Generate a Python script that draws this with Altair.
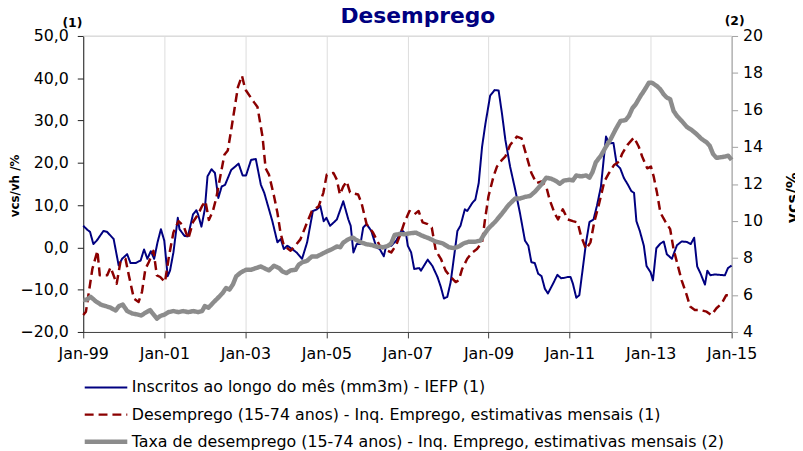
import altair as alt
import pandas as pd

# ---------------- data (month offset from Jan-99, value) ----------------
series_names = [
    "Inscritos ao longo do mês (mm3m) - IEFP (1)",
    "Desemprego (15-74 anos) - Inq. Emprego, estimativas mensais (1)",
    "Taxa de desemprego (15-74 anos) - Inq. Emprego, estimativas mensais (2)",
]
series_colors = ["#000080", "#8B0000", "#8C8C8C"]

iefp_month = [0, 1.3, 2, 3, 4, 6, 7, 9, 10.5, 11.5, 13, 14, 15.5, 17, 18, 19, 20, 21, 22, 23, 24, 25, 25.7, 26.7,
              28, 28.5, 30, 31, 32.5, 33.5, 34, 35, 36, 36.8, 38, 39, 40, 41, 42, 43.8, 46, 47.2, 48.2, 49.7, 51.1,
              52.6, 53.6, 55, 56, 57.5, 58.5, 59.4, 60.4, 61.9, 63.3, 64.8, 66.3, 68, 69.2, 70.2, 71.2, 72, 73.1,
              75.1, 77, 78.5, 79.2, 80, 81, 82.1, 82.9, 83.9, 85.3, 86.8, 87.8, 89, 89.7, 91.2, 92.7, 94.3, 95.6,
              96.1, 97.1, 98, 99.5, 100, 102, 103.4, 104.9, 105.9, 106.8, 107.8, 108.8, 110.1, 110.8, 111.7, 113,
              113.7, 115.2, 116.1, 117.1, 118.1, 119.1, 120.5, 121.8, 123, 124, 125, 126.4, 127.9, 129.3, 130.8,
              131.8, 132.7, 133.7, 134.7, 135.7, 136.7, 137.6, 139.1, 140.4, 141.5, 142.5, 143.5, 144.3, 145, 146,
              146.9, 147.9, 148.9, 149.9, 151.1, 152.1, 153.3, 154.1, 154.8, 155.7, 157, 158, 159, 160.1, 161.3,
              162.3, 163.1, 163.8, 164.8, 166, 166.8, 168, 168.7, 169.7, 170.9, 171.9, 172.8, 174.3, 175.8, 177.2,
              178.7, 179.9, 180.9, 181.8, 182.8, 184.1, 184.8, 185.7, 187, 188.5, 190, 190.9, 192]
iefp_value = [5.1, 4.1, 3.7, 0.8, 1.6, 3.9, 3.7, 2.0, -4.3, -2.7, -1.6, -3.7, -3.7, -3.1, -0.5, -2.7, -0.9, -2.7,
              1.2, 4.3, 1.6, -6.8, -5.5, -1.2, 7.0, 4.3, 2.7, 2.6, 7.8, 8.8, 7.8, 4.9, 9.0, 16.8, 18.5, 17.6, 11.7,
              14.4, 14.8, 18.3, 19.8, 17.0, 17.0, 20.7, 20.9, 14.8, 12.9, 9.0, 6.2, 1.2, 2.0, -0.4, 0.4, -0.4, -1.3,
              -2.7, 1.2, 8.6, 9.0, 9.8, 6.2, 7.0, 5.1, 6.6, 10.9, 6.6, 5.1, -1.2, 0.8, 0.8, 4.7, 5.5, 3.9, 0.0, -0.4,
              -2.1, 0.4, 0.4, 1.6, 4.1, 3.1, 0.4, -1.2, -5.1, -4.9, -5.5, -2.9, -4.4, -7.0, -9.4, -12.1, -11.7,
              -8.2, -0.4, 3.9, 5.1, 9.0, 8.6, 10.5, 11.3, 15.2, 23.8, 29.3, 35.9, 37.2, 37.1, 31.6, 25.4, 19.1, 13.7,
              8.2, 1.6, 0.4, -3.5, -3.7, -6.2, -6.8, -9.8, -10.9, -8.6, -6.5, -7.3, -7.2, -7.0, -7.0, -8.6, -11.9,
              -11.3, -5.1, 1.2, 6.0, 6.6, 9.8, 14.4, 20.7, 26.2, 24.6, 24.7, 19.5, 18.7, 16.4, 14.8, 13.3, 12.9, 6.2,
              3.9, 0.4, -4.4, -5.9, -7.8, -0.2, 0.9, 1.4, -1.6, -2.7, 0.5, 1.4, 1.3, 0.8, 2.3, -4.5, -6.2, -8.8,
              -5.5, -6.6, -6.4, -6.5, -6.6, -4.9, -4.3]

desemp_month = [0, 0.8, 2.7, 4.2, 4.9, 5.7, 7.1, 8.1, 9.9, 11, 12.5, 13.5, 15, 16.4, 17.4, 18.4, 19.4, 20.8, 21.8,
                22.8, 24.2, 25.4, 26.7, 28.2, 29.7, 31.1, 32.5, 34, 35.2, 36.2, 37.2, 38.4, 39.4, 40.4, 41.8, 42.8,
                43.8, 44.8, 45.8, 47, 47.7, 48.2, 50.6, 51.6, 53.1, 54, 55, 56.5, 57.5, 58.4, 59.4, 61.4, 62.8, 64.3,
                66.3, 67.7, 69.7, 71.1, 72.1, 74.1, 75.1, 76, 77, 78, 79, 81.4, 82.4, 83.9, 85.8, 87.8, 89.2, 91.2,
                92.7, 94.1, 95.1, 96.6, 98, 99.3, 100.5, 102, 103.2, 104.4, 105.9, 107.3, 108.8, 110.3, 111.2, 112.2,
                113.7, 115.2, 116.6, 118.1, 118.9, 120, 121.5, 122.5, 124, 125, 126.4, 128.4, 129.8, 131.3, 132.7,
                134.2, 135.7, 137.1, 138.1, 139.6, 140.6, 142, 143.5, 145, 146.4, 147.4, 148.9, 150.2, 151.3, 152.8,
                154.3, 155.7, 157.2, 158.7, 159.6, 161.1, 163.1, 164.5, 165.5, 167, 168.1, 168.9, 169.9, 170.9,
                172.3, 173.8, 174.8, 175.8, 177.2, 178.7, 179.7, 181.1, 182.6, 184.6, 186, 187.5, 189, 190.4, 192]
desemp_value = [-16.0, -15.2, -5.1, -0.8, -6.6, -6.6, -6.6, -4.7, -8.6, -3.5, -2.7, -6.6, -12.1, -12.9, -10.5,
                -5.1, -3.5, -0.8, -6.6, -7.0, -8.2, -2.0, 3.5, 6.2, 5.1, 2.0, 6.0, 7.8, 9.8, 10.9, 6.5, 8.6, 11.7,
                16.0, 21.9, 22.9, 27.7, 32.8, 37.9, 40.6, 38.3, 37.1, 34.3, 33.2, 26.1, 18.7, 17.2, 12.1, 8.2, 3.5,
                0.4, -0.8, 0.4, 1.9, 5.9, 8.6, 9.7, 12.9, 17.2, 17.6, 16.0, 12.5, 14.4, 15.6, 13.0, 12.5, 10.5, 5.5,
                3.5, 0.4, -0.4, -1.2, 0.6, 3.5, 5.9, 8.6, 7.8, 8.6, 5.9, 5.5, 4.7, -0.8, -2.7, -5.5, -7.0, -8.2, -7.8,
                -5.1, -2.7, -1.2, -0.4, 1.2, 6.2, 12.1, 16.8, 19.1, 20.7, 21.5, 24.2, 26.2, 25.8, 21.5, 17.6, 15.2,
                15.6, 14.4, 11.3, 8.0, 6.6, 9.0, 6.6, 6.2, 5.9, 2.7, -0.4, 1.2, 5.9, 10.5, 15.6, 17.6, 19.5, 20.3,
                22.2, 24.2, 26.0, 23.8, 21.5, 18.7, 19.1, 16.8, 12.9, 8.2, 6.2, 4.3, -0.4, -3.5, -7.8, -11.3, -14.0,
                -14.8, -14.8, -15.2, -16.0, -14.4, -13.3, -11.3, -11.3]

taxa_month = [0, 0.8, 2.2, 3.7, 5.2, 6.6, 8.1, 9.6, 10.6, 11.7, 13, 14.5, 15.9, 17.2, 18.4, 19.8, 20.8, 21.8, 22.8,
              24.2, 25.2, 26.7, 28.2, 29.6, 31.1, 32.6, 34, 35.2, 36, 37.1, 38.4, 39.9, 41.3, 42.3, 43.3, 44.3, 45.3,
              46.7, 48.2, 49.7, 51.1, 52.6, 54.1, 55, 56.5, 58, 59, 60.2, 61.4, 62.9, 63.8, 64.8, 66.3, 67.7, 69.2,
              70.7, 72.1, 73.6, 75.1, 76.1, 77, 78.5, 79.8, 80.9, 82.4, 83.9, 85.3, 86.8, 88.8, 90.2, 91.2, 92.2,
              93.6, 95.1, 96.6, 98.5, 100.5, 102.4, 104.4, 106.4, 108.3, 109.8, 111.2, 112.7, 114.2, 116.1, 117.6,
              118.6, 120, 122, 124, 125.9, 127.9, 129.3, 130.8, 132.3, 133.7, 135.7, 137.1, 138.6, 140.1, 141.1,
              142.3, 144, 145, 146, 147.4, 148.9, 149.9, 150.8, 151.8, 153.3, 154.8, 156.2, 157.7, 159.1, 160.6,
              161.6, 162.6, 163.6, 165, 166, 167.5, 168.4, 169.9, 170.9, 171.9, 172.8, 173.8, 174.8, 175.8, 177.2,
              178.7, 180.2, 181.6, 183.1, 184.6, 185.5, 186.5, 187.5, 189, 190, 191, 192]
taxa_value = [5.75, 5.72, 5.90, 5.66, 5.48, 5.40, 5.31, 5.16, 5.40, 5.48, 5.13, 5.00, 4.95, 4.89, 5.04, 5.18, 4.95,
              4.72, 4.86, 4.95, 5.07, 5.13, 5.07, 5.13, 5.07, 5.13, 5.07, 5.13, 5.40, 5.31, 5.57, 5.84, 6.11, 6.38,
              6.29, 6.56, 7.01, 7.22, 7.36, 7.36, 7.45, 7.54, 7.40, 7.33, 7.58, 7.45, 7.27, 7.18, 7.33, 7.36, 7.63,
              7.76, 7.85, 8.08, 8.08, 8.22, 8.35, 8.47, 8.62, 8.58, 8.83, 9.01, 9.10, 8.97, 8.83, 8.74, 8.70, 8.62,
              8.58, 8.65, 8.79, 9.24, 9.30, 9.28, 9.33, 9.37, 9.19, 9.06, 8.88, 8.79, 8.58, 8.53, 8.62, 8.79, 8.88,
              8.88, 8.94, 9.24, 9.60, 9.96, 10.40, 10.85, 11.21, 11.21, 11.30, 11.35, 11.57, 11.98, 12.34, 12.28,
              12.15, 12.01, 12.18, 12.23, 12.19, 12.46, 12.41, 12.46, 12.34, 12.64, 13.18, 13.53, 14.02, 14.43,
              14.97, 15.41, 15.45, 15.68, 16.09, 16.31, 16.75, 17.02, 17.47, 17.47, 17.29, 17.11, 16.84, 16.67,
              16.58, 15.95, 15.68, 15.41, 15.09, 14.91, 14.70, 14.43, 14.25, 14.07, 13.62, 13.41, 13.45, 13.48,
              13.53, 13.30]

x_tick_years = list(range(1999, 2016, 2))
left_ticks = [-20, -10, 0, 10, 20, 30, 40, 50]
right_ticks = [4, 6, 8, 10, 12, 14, 16, 18, 20]

FONT = "DejaVu Sans"


def to_dates(months):
    base = pd.Timestamp("1999-01-01")
    return [(base + pd.to_timedelta(m * 30.4375, unit="D")).strftime("%Y-%m-%dT%H:%M:%S") for m in months]


left_df = pd.concat([
    pd.DataFrame({"date": to_dates(iefp_month), "value": iefp_value, "series": series_names[0]}),
    pd.DataFrame({"date": to_dates(desemp_month), "value": desemp_value, "series": series_names[1]}),
])
right_df = pd.DataFrame({"date": to_dates(taxa_month), "value": taxa_value, "series": series_names[2]})

legend = alt.Legend(
    orient="none", legendX=-1, legendY=347, direction="vertical", title=None,
    symbolType="stroke", symbolSize=1849, clipHeight=16, rowPadding=11.5,
    labelFont=FONT, labelFontSize=16, labelColor="black", labelLimit=800,
    labelOffset=2, padding=0,
)

color_enc = alt.Color("series:N", scale=alt.Scale(domain=series_names, range=series_colors), legend=legend)
dash_enc = alt.StrokeDash("series:N", scale=alt.Scale(domain=series_names, range=[[1, 0], [9, 5], [1, 0]]),
                          legend=legend)
width_enc = alt.StrokeWidth("series:N", scale=alt.Scale(type="ordinal", domain=series_names,
                                                         range=[2.0, 2.5, 4.5]),
                            legend=legend)

x_enc = alt.X(
    "date:T",
    scale=alt.Scale(domain=[alt.DateTime(year=1999, month=1, date=1), alt.DateTime(year=2015, month=1, date=1)]),
    axis=alt.Axis(
        values=[alt.DateTime(year=y, month=1, date=1) for y in x_tick_years],
        format="%b-%y", title=None, domainColor="#404040", tickColor="#404040",
        tickSize=6, labelPadding=8, labelFontSize=16, labelFont=FONT, labelColor="black",
        labelFlush=False, labelOverlap=False, labelBound=False,
    ),
)

y_left = alt.Y(
    "value:Q",
    scale=alt.Scale(domain=[-20, 50], nice=False, zero=False),
    axis=alt.Axis(
        values=left_ticks, labelExpr="replace(format(datum.value, '.1f'), '.', ',')",
        title="vcs/vh /%", titleFont=FONT, titleFontSize=12, titleFontWeight="bold", titleColor="black",
        titleAngle=270, titleX=-62, titleY=151, titleAlign="center", titleBaseline="bottom",
        domainColor="#202020", tickColor="#202020", tickSize=6, labelPadding=9,
        labelFontSize=16, labelFont=FONT, labelColor="black", grid=False,
        labelFlush=False, labelOverlap=False,
    ),
)

y_right = alt.Y(
    "value:Q",
    scale=alt.Scale(domain=[4, 20], nice=False, zero=False),
    axis=alt.Axis(
        orient="right", values=right_ticks, format="d",
        title="vcs/%", titleFont=FONT, titleFontSize=16, titleFontWeight="bold", titleColor="black",
        titleAngle=270, titleX=70, titleY=163, titleAlign="center", titleBaseline="bottom",
        domainColor="#A0A0A0", tickColor="#A0A0A0", tickSize=6, labelPadding=5,
        labelFontSize=16, labelFont=FONT, labelColor="black", grid=False,
        labelFlush=False, labelOverlap=False,
    ),
)

one = pd.DataFrame({"k": [0]})

top_rule = alt.Chart(one).mark_rule(color="#DADADA", strokeWidth=1).encode(y=alt.datum(50))

left_lines = alt.Chart(left_df).mark_line(strokeJoin="round").encode(
    x=x_enc, y=y_left, color=color_enc, strokeDash=dash_enc, strokeWidth=width_enc,
    detail="series:N",
)

title_txt = alt.Chart(one).mark_text(
    text="Desemprego", font=FONT, fontSize=22, fontWeight="bold", color="#000080",
    align="center", baseline="alphabetic",
).encode(x=alt.value(338), y=alt.value(-13))

p1_txt = alt.Chart(one).mark_text(
    text="(1)", font=FONT, fontSize=12.5, fontWeight="bold", color="black", align="center", baseline="middle",
).encode(x=alt.value(-11), y=alt.value(-13))

p2_txt = alt.Chart(one).mark_text(
    text="(2)", font=FONT, fontSize=12.5, fontWeight="bold", color="black", align="center", baseline="middle",
).encode(x=alt.value(658), y=alt.value(-15))

left_layer = alt.layer(top_rule, left_lines, title_txt, p1_txt, p2_txt)

right_line = alt.Chart(right_df).mark_line(strokeJoin="round").encode(
    x=x_enc, y=y_right, color=color_enc, strokeDash=dash_enc, strokeWidth=width_enc,
)

chart = alt.layer(left_layer, right_line).resolve_scale(y="independent").properties(
    width=655, height=299,
    autosize=alt.AutoSizeParams(type="none"),
    padding={"left": 76, "top": 26, "right": 64, "bottom": 118},
).configure_view(stroke=None).configure(background="white")

chart.save("out.html", embed_options={"renderer": "svg", "actions": False})
